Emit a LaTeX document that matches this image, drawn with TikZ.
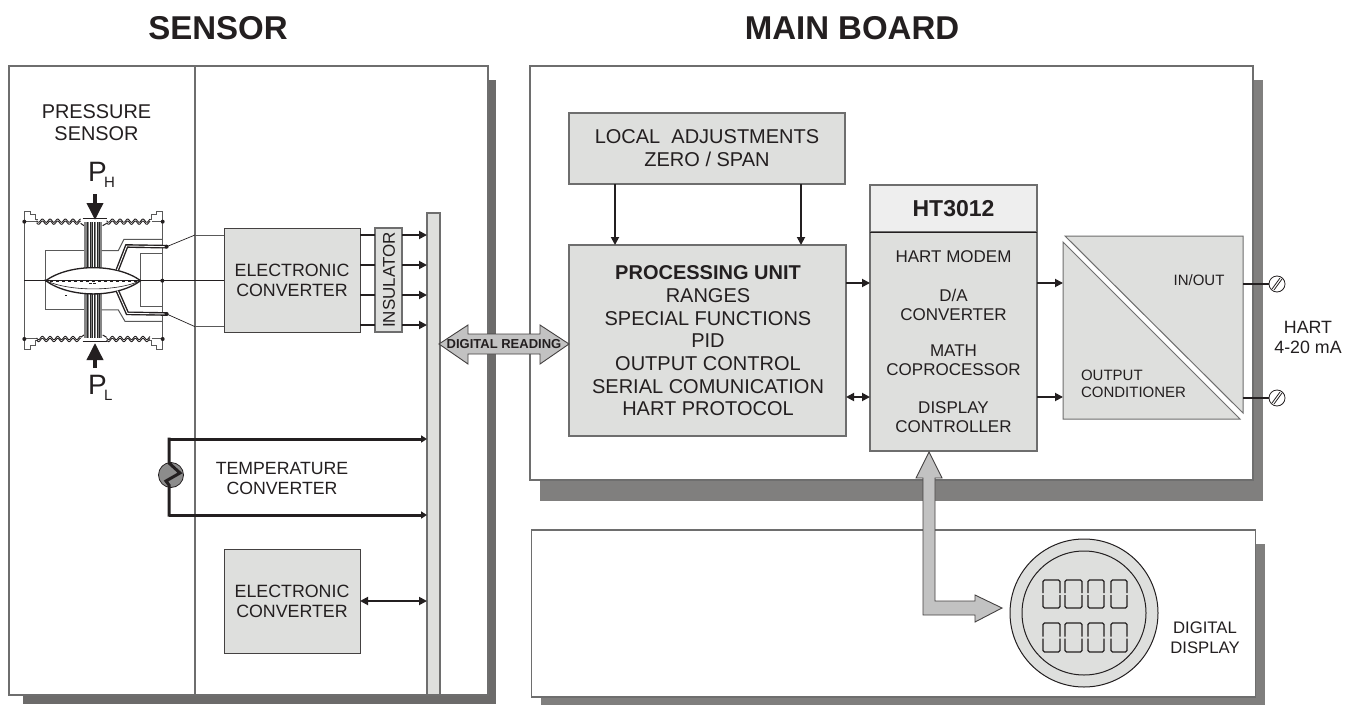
\documentclass[tikz,border=0pt]{standalone}
\usepackage{fontspec}
\setmainfont{Liberation Sans}
\usetikzlibrary{arrows.meta,calc}
\definecolor{boxfill}{HTML}{DEDFDD}
\definecolor{headfill}{HTML}{EEEEEE}
\definecolor{edgegray}{HTML}{6E6E6E}
\definecolor{shadowgray}{HTML}{807F7E}
\definecolor{shadowdark}{HTML}{6C6B6A}
\definecolor{arrowfill}{HTML}{C2C2C2}
\definecolor{ink}{HTML}{231F20}
\newcommand{\fs}[1]{\fontsize{#1}{#1}\selectfont}
\newcommand{\fsl}[2]{\fontsize{#1}{#2}\selectfont}
\tikzset{
  x=1pt,y=-1pt,
  every node/.style={text=ink,inner sep=0pt,outer sep=0pt},
  panel/.style={draw=edgegray,fill=white,line width=1.2pt},
  graybox/.style={draw=edgegray,fill=boxfill,line width=1.1pt,align=center},
  darkbox/.style={draw=ink!85,fill=boxfill,line width=1pt,align=center},
  conn/.style={draw=ink,line width=1.8pt,-{Triangle[length=8pt,width=8pt]}},
  biconn/.style={draw=ink,line width=1.8pt,{Triangle[length=8pt,width=8pt]}-{Triangle[length=8pt,width=8pt]}},
  thickconn/.style={draw=ink,line width=3pt,-{Triangle[length=6pt,width=7pt]}},
  plain/.style={draw=ink,line width=1.8pt},
  thin gray/.style={draw=black!65,line width=1pt},
  fatarrow/.style={draw=ink!85,fill=arrowfill,line width=.9pt,line join=miter},
  seg/.style={draw=ink,line width=1.3pt,rounded corners=1.5pt},
  dotted end/.style={fill=ink,draw=none},
  lead/.style={draw=ink,line width=1.4pt,double=white,double distance=.9pt},
}
\begin{document}
\begin{tikzpicture}
\useasboundingbox (0,0) rectangle (1354,706);
\fill[white] (0,0) rectangle (1354,706);

% titles
\node (tsensor) at (218,28) {\fs{33}\bfseries SENSOR};
\node (tmain) at (852,28) {\fs{33}\bfseries MAIN BOARD};

% panels with shadows
\fill[shadowdark] (23,80) rectangle (496,704);
\node[panel,minimum width=479pt,minimum height=629pt] (sensorpanel) at (248.5,380.5) {};
\fill[shadowgray] (540,80) rectangle (1263,501);
\node[panel,minimum width=723pt,minimum height=414pt] (mainpanel) at (891.5,273) {};
\fill[shadowgray] (541,544) rectangle (1265,705);
\node[panel,minimum width=724pt,minimum height=167pt] (disppanel) at (893.5,613.5) {};
\draw[edgegray,line width=1.2pt] (195,66) -- (195,695);

% bus
\node[graybox,minimum width=13pt,minimum height=482pt] (bus) at (433.5,454) {};

% sensor drawing
\begin{scope}[shift={(10,130)},scale=1/3]
  % housing
  \draw[thin gray] (43,275) -- (43,245) -- (62,245) -- (62,255) -- (76,255) -- (76,270) -- (84,270);
  \draw[thin gray] (458,275) -- (458,245) -- (440,245) -- (440,255) -- (425,255) -- (425,270) -- (418,270);
  \draw[thin gray] (43,627) -- (43,658) -- (62,658) -- (62,648) -- (76,648) -- (76,632) -- (84,632);
  \draw[thin gray] (458,627) -- (458,658) -- (440,658) -- (440,648) -- (425,648) -- (425,632) -- (418,632);
  \draw[thin gray] (43,275) -- (43,627);
  \draw[thin gray] (458,275) -- (458,627);
  \draw[thin gray] (43,275) -- (80,275);
  \draw[thin gray] (425,275) -- (458,275);
  \draw[thin gray] (43,627) -- (80,627);
  \draw[thin gray] (425,627) -- (458,627);
  % wavy diaphragms
  \foreach \yy in {272,278,624,630}{
    \draw[ink,line width=.9pt] plot[domain=80:212,samples=60,smooth] (\x,{\yy+5*sin((\x-80)*15.7)});
    \draw[ink,line width=.9pt] plot[domain=290:420,samples=60,smooth] (\x,{\yy+5*sin((\x-290)*15.7)});
  }
  \draw[ink,line width=1pt] (212,280) -- (222,287) (290,280) -- (278,287);
  \draw[ink,line width=1pt] (212,622) -- (222,615) (290,622) -- (278,615);
  \draw[ink,line width=1pt] (218,267) -- (292,267);
  \draw[ink,line width=1pt] (218,634) -- (292,634);
  % pillars
  \foreach \ya/\yb in {277/415,490/625}{
    \fill[black!48] (222,\ya) rectangle (275,\yb);
    \foreach \xx in {233,240,247,254,262,269}{
      \draw[black!85,line width=.5pt] (\xx,\ya) -- (\xx,\yb);
    }
    \fill[white] (236,\ya) rectangle (238.5,\yb);
    \fill[white] (250,\ya) rectangle (252,\yb);
    \fill[white] (258,\ya) rectangle (260.5,\yb);
  }
  % thin gray frame lines
  \draw[thin gray] (222,362) -- (107,362) -- (107,540) -- (222,540);
  \draw[thin gray] (275,362) -- (325,362) -- (342,328) -- (458,328);
  \draw[thin gray] (275,540) -- (325,540) -- (345,574) -- (458,574);
  \draw[thin gray] (392,452) -- (392,372) -- (458,372);
  \draw[thin gray] (392,452) -- (392,530) -- (458,530);
  % lens
  \filldraw[fill=white,draw=ink,line width=1.3pt] (107,452) .. controls (180,400) and (320,400) .. (392,452)
     .. controls (320,505) and (180,505) .. cycle;
  \draw[ink,line width=.6pt] (107,452) .. controls (180,485) and (320,485) .. (392,452);
  \draw[ink,line width=.4pt,dashed] (120,454) -- (380,454);
  \fill[ink] (238,460) rectangle (246,462);
  \fill[ink] (250,458) rectangle (258,460);
  \fill[ink] (164,494) rectangle (170,496);
  % centre line
  \draw[ink,line width=.7pt] (43,452) -- (392,452);
  % double leads
  \draw[lead] (322,420) -- (350,348) -- (470,350);
  \draw[lead] (322,482) -- (352,550) -- (470,552);
  % dots
  \foreach \dx/\dy in {43/275,458/275,43/627,458/627,457/452,470/350,470/552}{
    \fill[dotted end] (\dx,\dy) circle[radius=6];
  }
  % leads to converter
  \draw[ink,line width=.7pt] (470,350) -- (555,315);
  \draw[black!65,line width=.9pt] (555,315) -- (643,315);
  \draw[ink,line width=.7pt] (470,552) -- (555,590);
  \draw[black!65,line width=.9pt] (555,590) -- (643,590);
  \draw[ink,line width=.9pt] (392,452) -- (643,452);
\end{scope}

% pressure labels and arrows
\node[anchor=west] (ph) at (88,175) {\fs{28}P\kern-2.5pt\raisebox{-6.5pt}{\fs{15}H}};
\node[anchor=west] (pl) at (88,388) {\fs{28}P\kern-2.5pt\raisebox{-6.5pt}{\fs{15}L}};
\coordinate (phtop) at (95,194);
\coordinate (phtip) at (95,220);
\coordinate (pltop) at (95,368);
\coordinate (pltip) at (95,343);
\draw[ink,line width=3.6pt,-{Triangle[length=17pt,width=16pt]}] (phtop) -- (phtip);
\draw[ink,line width=3.6pt,-{Triangle[length=17pt,width=16pt]}] (pltop) -- (pltip);

\node[font=\fsl{19.9}{21.5},align=center] (pslabel) at (96.5,122.5) {PRESSURE\\SENSOR};

% converter and insulator
\node[darkbox,minimum width=136pt,minimum height=104pt,font=\fsl{17.8}{19.8}] (ec1) at (292,280) {ELECTRONIC\\CONVERTER};
\node[graybox,minimum width=27pt,minimum height=104pt] (ins) at (388.5,280) {};
\node[rotate=90,font=\fs{17}] (instext) at (389,280) {INSULATOR};
\foreach \yy in {235,265,295,325}{
  \draw[plain] (ec1.east |- 0,\yy) -- (ins.west |- 0,\yy);
  \draw[conn] (ins.east |- 0,\yy) -- (bus.west |- 0,\yy);
}

% temperature
\node[circle,draw=ink,fill=black!45,line width=.8pt,minimum size=25pt] (tsens) at (171,475) {};
\coordinate (t1) at (169,439);
\coordinate (t2) at (169,515);
\draw[ink,line width=3pt,line join=miter,line cap=rect] (t1) -- (169,463) -- (180,473) -- (166,481) -- (169,485) -- (t2);
\draw[thickconn] (t1) -- (bus.west |- t1);
\draw[thickconn] (t2) -- (bus.west |- t2);
\node[font=\fsl{17.7}{20},align=center] (tlabel) at (282,478) {TEMPERATURE\\CONVERTER};

% second converter
\node[darkbox,minimum width=136pt,minimum height=104pt,font=\fsl{17.8}{19.8}] (ec2) at (292,601) {ELECTRONIC\\CONVERTER};
\draw[biconn] (ec2.east) -- (bus.west |- ec2.east);

% main board boxes
\node[graybox,minimum width=276pt,minimum height=71pt,font=\fsl{20}{23}] (local) at (707,148.5) {LOCAL\ \ ADJUSTMENTS\\ZERO / SPAN};
\node[graybox,minimum width=277pt,minimum height=191pt] (proc) at (707.5,340.5) {};
\node[font=\fsl{20}{22.7},align=center] (proctxt) at (708,341) {\bfseries PROCESSING UNIT\\RANGES\\SPECIAL FUNCTIONS\\PID\\OUTPUT CONTROL\\SERIAL COMUNICATION\\HART PROTOCOL};
\draw[conn] (local.south -| 615,0) -- (proc.north -| 615,0);
\draw[conn] (local.south -| 801,0) -- (proc.north -| 801,0);

\node[graybox,fill=headfill,minimum width=167pt,minimum height=47pt] (hthead) at (953.5,208.5) {\fs{23}\bfseries HT3012};
\node[graybox,minimum width=167pt,minimum height=219pt] (ht) at (953.5,341.5) {};
\draw[ink,line width=1pt] (hthead.south west) -- (hthead.south east);
\node[font=\fs{17}] (h1) at (953.5,257) {HART MODEM};
\node[font=\fsl{17}{19},align=center] (h2) at (953.5,304.5) {D/A\\CONVERTER};
\node[font=\fsl{17}{19},align=center] (h3) at (953.5,360.5) {MATH\\COPROCESSOR};
\node[font=\fsl{17}{19},align=center] (h4) at (953.5,417.5) {DISPLAY\\CONTROLLER};
\draw[conn] (proc.east |- 0,283) -- (ht.west |- 0,283);
\draw[biconn] (proc.east |- 0,397) -- (ht.west |- 0,397);

% output conditioner
\node[minimum width=180pt,minimum height=183pt,fill=none] (oc) at (1153,327.5) {};
\filldraw[fill=boxfill,draw=edgegray,line width=1pt] (1065,236) -- (1243,236) -- (1243,413) -- cycle;
\filldraw[fill=boxfill,draw=edgegray,line width=1pt] (1063,242) -- (1063,419) -- (1240,419) -- cycle;
\draw[conn] (ht.east |- 0,283) -- (oc.west |- 0,283);
\draw[conn] (ht.east |- 0,397) -- (oc.west |- 0,397);
\node[font=\fs{15}] (inout) at (1199,280) {IN/OUT};
\node[font=\fsl{15}{17},align=left,anchor=west] (outc) at (1081,383.5) {OUTPUT\\CONDITIONER};

% terminals
\node[circle,draw=ink,fill=white,line width=.8pt,minimum size=16pt] (term1) at (1277,284) {};
\node[circle,draw=ink,fill=white,line width=.8pt,minimum size=16pt] (term2) at (1277,398) {};
\draw[plain] (oc.east |- term1) -- (term1.west);
\draw[plain] (oc.east |- term2) -- (term2.west);
\foreach \t in {term1,term2}{
  \draw[ink,line width=.8pt] ($(\t)+(-5,5)$) -- ($(\t)+(3,-6)$);
  \draw[ink,line width=.8pt] ($(\t)+(-3,6)$) -- ($(\t)+(5,-5)$);
}
\node[font=\fsl{17.8}{19.5},align=center] (hart) at (1308,337.5) {HART\\4-20 mA};

% digital reading arrow
\filldraw[fatarrow] (439,344) -- (468,325) -- (468,334) -- (540,334) -- (540,325) -- (569,344) -- (540,364) -- (540,354) -- (468,354) -- (468,364) -- cycle;
\node[font=\fs{13}] (dr) at (504,344.5) {\bfseries DIGITAL READING};

% display arrow
\filldraw[fatarrow] (929,452) -- (942,478) -- (935,478) -- (935,601) -- (975,601) -- (975,595) -- (1002,608) -- (975,622) -- (975,615) -- (923,615) -- (923,478) -- (916,478) -- cycle;

% display
\node[circle,draw=ink,fill=boxfill,line width=1pt,minimum size=148pt] (dispout) at (1084,613) {};
\node[circle,draw=ink,fill=boxfill,line width=1pt,minimum size=124pt] (dispin) at (1084,613) {};
\foreach \xa/\xb in {1043/1060,1065/1082,1088/1104,1111/1127}{
  \foreach \ya/\yb in {580/608,623/652}{
    \pgfmathsetmacro{\ym}{(\ya+\yb)/2}
    \draw[seg] (\xa,\ym-1) -- (\xa,\ya) -- (\xb,\ya) -- (\xb,\ym-1);
    \draw[seg] (\xa,\ym+1) -- (\xa,\yb) -- (\xb,\yb) -- (\xb,\ym+1);
  }
}
\node[font=\fsl{16.7}{20},align=center] (dd) at (1205,638) {DIGITAL\\DISPLAY};
\end{tikzpicture}
\end{document}
